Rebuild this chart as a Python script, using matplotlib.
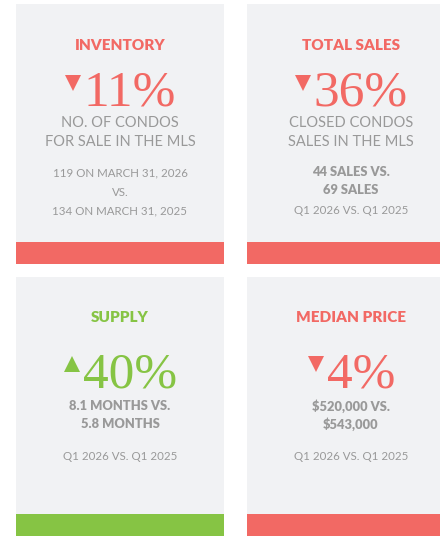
import matplotlib
matplotlib.use("Agg")
import matplotlib.pyplot as plt
from matplotlib.patches import Rectangle

# ---- data ----
titles = ["INVENTORY", "TOTAL SALES", "SUPPLY", "MEDIAN PRICE"]
changes = ["11%", "36%", "40%", "4%"]
directions = ["down", "down", "up", "down"]
subtitles = [["NO. OF CONDOS", "FOR SALE IN THE MLS"],
             ["CLOSED CONDOS", "SALES IN THE MLS"],
             [],
             []]
bold_lines = [[],
              ["44 SALES VS.", "69 SALES"],
              ["8.1 MONTHS VS.", "5.8 MONTHS"],
              ["$520,000 VS.", "$543,000"]]
small_lines = [["119 ON MARCH 31, 2026", "VS.", "134 ON MARCH 31, 2025"],
               ["Q1 2026 VS. Q1 2025"],
               ["Q1 2026 VS. Q1 2025"],
               ["Q1 2026 VS. Q1 2025"]]

RED = "#F26964"
GREEN = "#86C444"
GRAY = "#999999"
BG = "#F1F2F4"

W, H = 440, 536
fig = plt.figure(figsize=(W / 100, H / 100), dpi=100)
ax = fig.add_axes([0, 0, 1, 1])
ax.set_xlim(0, W)
ax.set_ylim(H, 0)
ax.axis("off")

cards = [(16, 4, 208, 260), (247, 4, 208, 260), (16, 277, 208, 259), (247, 277, 208, 259)]
bar_h = 22

fig.canvas.draw()
renderer = fig.canvas.get_renderer()

for i, (x0, y0, w, h) in enumerate(cards):
    color = GREEN if directions[i] == "up" else RED
    ax.add_patch(Rectangle((x0, y0), w, h, facecolor=BG, edgecolor="none"))
    ax.add_patch(Rectangle((x0, y0 + h - bar_h), w, bar_h, facecolor=color, edgecolor="none"))
    cx = x0 + w / 2
    ax.text(cx, y0 + 41, titles[i], ha="center", va="center", color=color,
            fontsize=11, fontweight="heavy", family="Lato")
    # big number
    ny = y0 + 102 if i < 2 else y0 + 110
    t = ax.text(cx + 10, ny, changes[i], ha="center", va="baseline", color=color,
                fontsize=37, family="Liberation Serif")
    bb = t.get_window_extent(renderer=renderer)
    inv = ax.transData.inverted()
    lx = inv.transform([[bb.x0, bb.y0]])[0][0]
    marker = "^" if directions[i] == "up" else "v"
    ty = ny - 23
    ax.plot([lx - 11], [ty], marker=marker, color=color, markersize=11.5, markeredgewidth=0)
    y = y0 + 119
    for s in subtitles[i]:
        ax.text(cx, y, s, ha="center", va="center", color=GRAY, fontsize=10.5,
                family="Lato")
        y += 19
    ys = y0 + 168 if i < 2 else y0 + 129
    for s in bold_lines[i]:
        ax.text(cx, ys, s, ha="center", va="center", color=GRAY, fontsize=9.3,
                family="Lato", fontweight="heavy")
        ys += 18
    if i == 0:
        ys = y0 + 169
    elif i == 1:
        ys = y0 + 206
    else:
        ys = y0 + 180
    for s in small_lines[i]:
        ax.text(cx, ys, s, ha="center", va="center", color=GRAY, fontsize=8.3,
                family="Lato")
        ys += 19

fig.savefig("out.png", dpi=100, facecolor="white")
